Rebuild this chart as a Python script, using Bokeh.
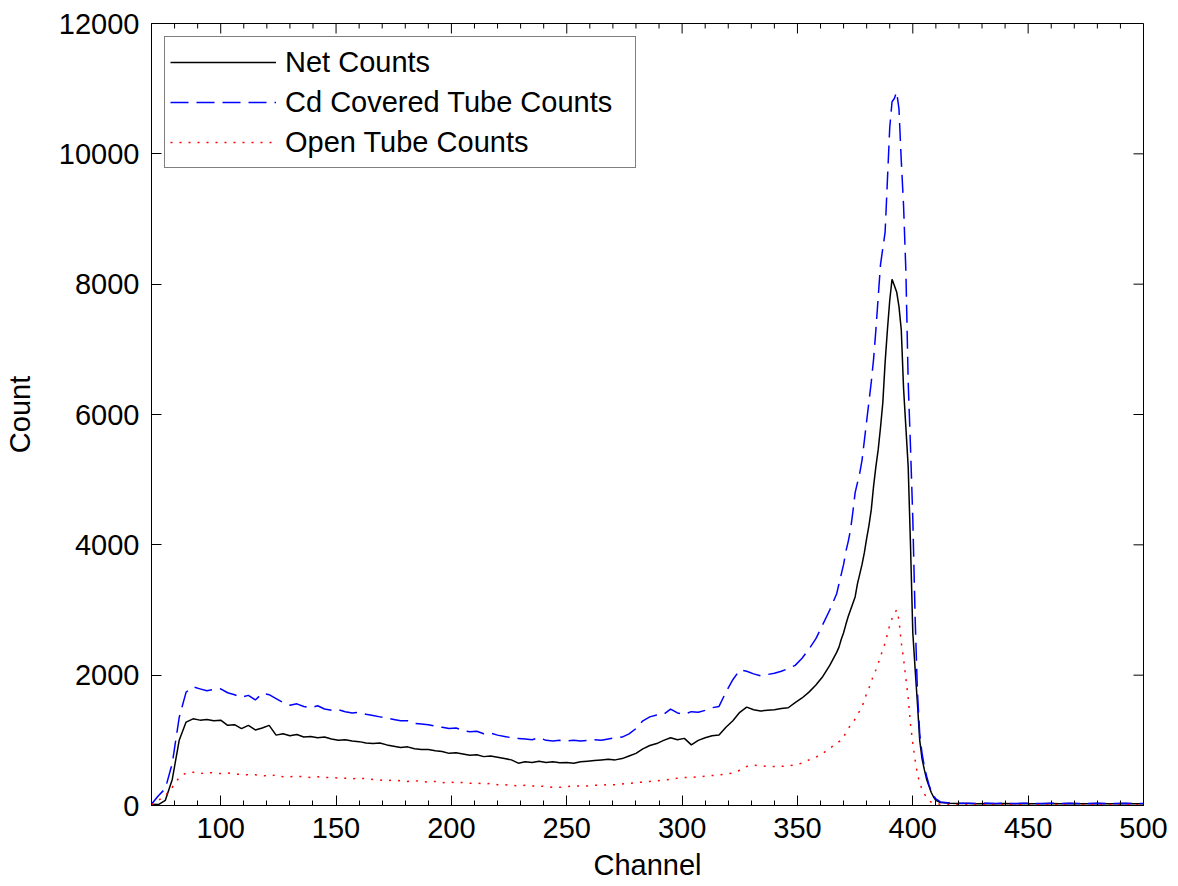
import math
from bokeh.plotting import figure
from bokeh.models import Range1d, Legend, LegendItem, FixedTicker
from bokeh.embed import file_html
from bokeh.resources import INLINE

# ---------------- data ----------------
channels = (list(range(70, 368, 3)) + list(range(368, 411, 1)) + list(range(412, 501, 4)))

net_counts = [
    20, 15, 80, 400, 1000, 1280, 1330, 1310, 1320, 1300,
    1310, 1230, 1240, 1180, 1230, 1160, 1190, 1230, 1080, 1100,
    1070, 1090, 1050, 1060, 1040, 1050, 1020, 1000, 1010, 990,
    980, 960, 950, 960, 930, 910, 890, 900, 870, 860,
    860, 840, 830, 800, 810, 790, 770, 780, 750, 760,
    740, 720, 700, 650, 670, 660, 680, 660, 670, 655,
    660, 650, 670, 680, 690, 700, 710, 700, 720, 760,
    800, 870, 920, 950, 1000, 1040, 1010, 1030, 930, 1000,
    1040, 1070, 1080, 1200, 1300, 1430, 1510, 1470, 1450, 1460,
    1470, 1490, 1500, 1580, 1650, 1740, 1850, 1980, 2150, 2350,
    # 368 - 410
    2430, 2550, 2650, 2780, 2900, 3000, 3100, 3200, 3400, 3550,
    3700, 3880, 4100, 4300, 4540, 4900, 5200, 5460, 5800, 6180,
    6800, 7300, 7750, 8075, 7980, 7880, 7660, 7300, 6400, 5800,
    5200, 4000, 2650, 2100, 1570, 1000, 720, 550, 400, 300,
    200, 130, 80,
    # 412 - 500
    45, 35, 30, 30, 25, 30, 28, 30, 25, 30, 28, 25, 30, 28, 30, 25,
    28, 30, 25, 28, 30, 25, 28,
]

cd_covered_counts = [
    20, 150, 260, 646, 1350, 1740, 1820, 1790, 1760, 1780,
    1790, 1730, 1700, 1660, 1690, 1620, 1720, 1700, 1640, 1580,
    1540, 1560, 1520, 1500, 1530, 1480, 1460, 1470, 1440, 1420,
    1430, 1400, 1380, 1360, 1340, 1320, 1300, 1300, 1260, 1250,
    1240, 1220, 1200, 1180, 1190, 1150, 1130, 1140, 1100, 1110,
    1080, 1060, 1040, 1030, 1020, 1010, 1040, 1000, 990, 1000,
    990, 1000, 990, 1000, 1010, 1000, 1020, 1040, 1050, 1100,
    1180, 1300, 1360, 1390, 1400, 1480, 1420, 1400, 1440, 1430,
    1460, 1500, 1520, 1740, 1930, 2080, 2060, 2020, 1990, 2010,
    2030, 2060, 2100, 2150, 2260, 2400, 2560, 2780, 3000, 3250,
    # 368 - 410
    3400, 3550, 3700, 3900, 4050, 4230, 4500, 4800, 4950, 5100,
    5300, 5600, 5900, 6200, 6500, 6850, 7300, 7800, 8300, 8550,
    8800, 9600, 10400, 10800, 10850, 10950, 10690, 9900, 9200, 8200,
    6500, 5500, 4400, 2900, 1750, 1100, 800, 600, 450, 320,
    220, 150, 100,
    # 412 - 500
    55, 40, 35, 35, 30, 35, 30, 35, 30, 35, 30, 30, 35, 30, 35, 30,
    30, 35, 30, 30, 35, 30, 30,
]

open_tube_counts = [
    10, 80, 150, 280, 430, 500, 510, 490, 505, 500,
    490, 500, 480, 480, 470, 470, 460, 450, 470, 440,
    440, 450, 440, 430, 440, 430, 430, 420, 420, 410,
    420, 410, 400, 390, 380, 390, 380, 370, 380, 370,
    360, 370, 350, 360, 350, 355, 340, 345, 330, 340,
    320, 320, 310, 300, 310, 300, 300, 290, 280, 280,
    290, 300, 300, 300, 310, 310, 320, 320, 330, 340,
    350, 360, 370, 380, 390, 400, 420, 430, 430, 440,
    450, 460, 470, 480, 500, 540, 600, 620, 610, 600,
    600, 600, 610, 620, 650, 700, 740, 800, 880, 950,
    # 368 - 410
    980, 1000, 1050, 1120, 1180, 1230, 1260, 1330, 1400, 1450,
    1510, 1620, 1720, 1800, 1900, 2000, 2080, 2180, 2280, 2400,
    2490, 2630, 2770, 2870, 2950, 3000, 2850, 2500, 2250, 1950,
    1650, 1250, 950, 700, 490, 340, 250, 180, 120, 80,
    50, 35, 25,
    # 412 - 500
    20, 15, 15, 12, 15, 12, 15, 12, 15, 12, 15, 12, 15, 12, 15, 12,
    15, 12, 15, 12, 15, 12, 15,
]

x_major_ticks = [100, 150, 200, 250, 300, 350, 400, 450, 500]
x_minor_ticks = [80, 90, 110, 120, 130, 140, 160, 170, 180, 190, 210, 220,
                 230, 240, 260, 270, 280, 290, 310, 320, 330, 340, 360, 370,
                 380, 390, 410, 420, 430, 440, 460, 470, 480, 490]
y_major_ticks = [0, 2000, 4000, 6000, 8000, 10000, 12000]

X_START, X_END = 70, 500
Y_START, Y_END = 0, 12000

FONT = "Liberation Sans"
FS = "29px"

p = figure(width=1170, height=886,
           x_range=Range1d(X_START, X_END), y_range=Range1d(Y_START, Y_END),
           output_backend="svg", toolbar_location=None,
           min_border_left=150, min_border_right=27,
           min_border_top=23, min_border_bottom=81)

p.xgrid.visible = False
p.ygrid.visible = False
p.outline_line_color = "black"
p.outline_line_width = 1
p.background_fill_color = "white"
p.border_fill_color = "white"

p.xaxis.ticker = FixedTicker(ticks=x_major_ticks, minor_ticks=x_minor_ticks)
p.yaxis.ticker = FixedTicker(ticks=y_major_ticks, minor_ticks=[])

for ax in (p.xaxis[0], p.yaxis[0]):
    ax.axis_line_color = "black"
    ax.major_tick_line_color = "black"
    ax.minor_tick_line_color = "black"
    ax.major_tick_in = 10
    ax.major_tick_out = 0
    ax.minor_tick_in = 5
    ax.minor_tick_out = 0
    ax.major_label_text_font = FONT
    ax.major_label_text_font_size = FS
    ax.major_label_text_color = "black"
    ax.axis_label_text_font = FONT
    ax.axis_label_text_font_size = FS
    ax.axis_label_text_font_style = "normal"
    ax.axis_label_text_color = "black"

p.xaxis.axis_label = "Channel"
p.yaxis.axis_label = "Count"
p.xaxis.major_label_standoff = 12
p.xaxis.axis_label_standoff = 8
p.yaxis.major_label_standoff = 12
p.yaxis.axis_label_standoff = 20

# inward ticks on the top and right edges of the box (MATLAB style)
p.ray(x=x_major_ticks, y=[Y_END] * len(x_major_ticks), length=10,
      length_units="screen", angle=-math.pi / 2, line_color="black", line_width=1)
p.ray(x=x_minor_ticks, y=[Y_END] * len(x_minor_ticks), length=5,
      length_units="screen", angle=-math.pi / 2, line_color="black", line_width=1)
p.ray(x=[X_END] * len(y_major_ticks), y=y_major_ticks, length=10,
      length_units="screen", angle=math.pi, line_color="black", line_width=1)

r_net = p.line(channels, net_counts, line_color="black", line_width=1.5)
r_cd = p.line(channels, cd_covered_counts, line_color="blue", line_width=1.5,
              line_dash="18 8")
r_open = p.line(channels, open_tube_counts, line_color="red", line_width=1.5,
                line_dash="2 7")

legend = Legend(items=[
    LegendItem(label="Net Counts", renderers=[r_net]),
    LegendItem(label="Cd Covered Tube Counts", renderers=[r_cd]),
    LegendItem(label="Open Tube Counts", renderers=[r_open]),
], location="top_left")
legend.margin = 13
legend.padding = 5
legend.spacing = 0
legend.glyph_width = 106
legend.glyph_height = 40
legend.label_height = 40
legend.label_width = 345
legend.label_standoff = 9
legend.label_text_font = FONT
legend.label_text_font_size = FS
legend.label_text_color = "black"
legend.border_line_color = "black"
legend.border_line_width = 1
legend.background_fill_color = "white"
legend.background_fill_alpha = 1.0
p.add_layout(legend, "center")

open("out.html", "w").write(file_html(p, INLINE))
